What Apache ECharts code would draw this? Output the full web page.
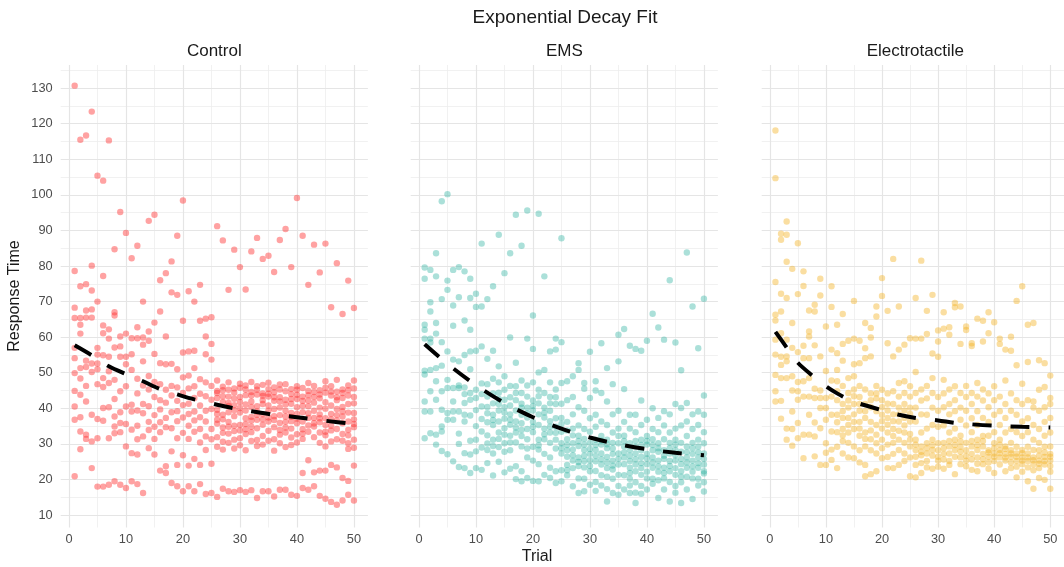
<!DOCTYPE html>
<html><head><meta charset="utf-8">
<script src="https://cdn.jsdelivr.net/npm/echarts@6/dist/echarts.min.js"></script>
<style>html,body{margin:0;padding:0;background:#fff}#c{width:1064px;height:567px}</style>
</head><body><div id="c"></div>
<script>
const panelNames = ['Control', 'EMS', 'Electrotactile'];
const trials = [1,2,3,4,5,6,7,8,9,10,11,12,13,14,15,16,17,18,19,20,21,22,23,24,25,26,27,28,29,30,31,32,33,34,35,36,37,38,39,40,41,42,43,44,45,46,47,48,49,50];
const xTicks = [0, 10, 20, 30, 40, 50];
const xMinorTicks = [5, 15, 25, 35, 45];
const yTicks = [10, 20, 30, 40, 50, 60, 70, 80, 90, 100, 110, 120, 130];
const yMinorTicks = [15, 25, 35, 45, 55, 65, 75, 85, 95, 105, 115, 125, 135];

// Response times per trial (row i = trial i+1)
const controlValues = [
[130.7,78.6,68.3,65.4,57.0,54.1,49.9,44.9,40.5,36.8,20.9],
[115.5,74.3,65.4,63.5,61.0,51.3,48.4,43.8,37.5,33.5,28.5],
[116.7,74.9,67.5,65.5,53.4,51.6,46.3,41.9,32.6,31.4],
[123.4,80.1,73.1,67.8,65.5,52.6,50.2,38.2,30.7,23.2],
[105.4,70.0,57.0,55.1,52.6,51.0,46.8,37.0,31.6,18.0],
[104.0,77.2,63.3,61.1,54.9,48.5,46.0,40.1,36.5,18.0],
[115.3,62.2,59.6,54.5,50.4,47.1,40.3,31.6,18.5],
[84.7,67.0,66.1,57.1,48.0,42.6,37.7,34.9,33.0,19.5],
[95.2,60.2,57.4,54.5,44.8,38.9,35.9,33.3,18.5],
[89.3,61.0,54.5,52.4,46.2,40.5,35.6,29.3,17.6],
[82.2,59.7,55.2,50.8,41.0,39.1,34.0,27.4,19.5],
[85.7,62.8,59.7,48.3,44.2,39.4,35.1,31.3,27.0,18.7],
[70.0,59.9,57.9,53.2,46.4,41.2,38.6,32.1,16.2],
[92.7,61.6,59.0,49.1,45.3,40.6,36.2,33.9,28.8],
[94.4,64.1,55.3,47.4,43.2,38.1,34.8,31.4,27.0],
[76.0,67.2,52.7,46.8,42.3,39.7,36.1,33.3,22.5],
[78.0,60.2,52.4,45.2,41.6,37.3,34.7,23.7,21.8],
[81.3,72.6,52.5,46.3,43.6,38.9,34.4,27.9,19.0],
[88.5,71.9,51.0,45.9,42.1,39.2,36.4,31.6,24.1,18.1],
[98.4,64.6,55.7,48.7,44.3,40.9,37.4,33.1,26.8,16.7],
[72.9,56.0,49.2,45.6,41.3,38.4,35.1,31.4,23.9,18.1],
[70.0,56.2,51.3,46.2,42.9,39.1,36.6,33.4,25.8,16.7],
[74.7,64.6,48.2,44.1,40.8,37.5,34.2,30.4,24.1,18.7],
[65.2,60.2,55.2,47.3,43.4,39.3,36.3,32.1,28.3,15.9],
[65.6,58.1,53.7,46.3,42.4,39.8,34.2,31.3,24.4,16.2],
[91.2,47.8,44.3,42.9,39.6,38.4,35.7,31.9,29.2,15.1,44.9,36.8],
[87.2,46.1,43.4,41.8,38.2,36.9,33.1,30.6,28.4,17.4,45.1,34.6],
[73.3,47.3,45.2,41.5,40.7,36.2,34.8,32.9,30.3,16.7,43.3,38.9],
[84.6,45.6,42.7,40.9,37.8,35.1,33.6,31.2,28.7,16.5,44.4,39.5],
[79.7,46.9,45.8,43.2,40.1,38.8,35.3,31.6,29.6,17.0,41.8,33.8],
[73.4,46.4,43.7,41.1,39.4,37.2,34.1,32.8,28.2,16.5,45.3,35.6],
[84.1,47.4,44.6,43.6,40.4,37.6,36.5,33.3,30.8,17.0,41.9,34.8],
[87.9,45.2,43.9,40.6,39.1,36.8,34.4,31.1,29.4,14.8,46.2,38.2],
[82.0,46.6,44.2,42.3,41.2,38.3,35.4,32.2,29.8,16.7,43.5,36.9],
[82.9,47.2,45.4,43.3,40.8,37.4,36.3,33.7,30.9,16.7,44.1,39.3],
[78.3,45.9,44.5,42.1,39.8,36.7,34.7,31.3,28.1,15.2,43.1,37.8],
[87.3,45.3,43.1,41.9,40.2,38.1,35.9,32.6,30.2,17.1,46.7,33.9],
[90.4,46.8,44.8,42.4,39.3,37.7,34.6,33.2,29.1,17.1,41.1,36.2],
[79.7,45.4,42.6,41.3,38.7,36.4,34.3,31.8,29.7,15.7,44.0,37.6],
[99.1,46.2,43.8,42.6,40.3,37.1,35.8,32.7,30.4,15.4,45.2,38.4],
[88.5,45.7,43.3,40.7,38.9,36.3,34.1,31.4,21.8,17.6,42.1,32.9],
[74.7,47.1,44.9,42.2,40.6,38.6,35.2,33.4,25.4,17.1,43.7,37.3],
[86.0,46.3,43.2,41.6,39.3,37.3,34.9,31.9,22.0,18.1,44.6,35.8],
[78.2,45.1,42.8,40.2,38.3,36.1,33.2,30.3,22.5,15.4,43.9,37.2],
[86.3,47.6,44.4,41.7,39.9,37.2,35.3,32.4,29.3,22.5,14.6,45.8,33.4],
[68.4,46.2,43.6,40.8,38.4,36.9,33.8,30.7,24.1,13.7,44.7,35.1],
[80.8,48.0,44.7,42.3,39.8,36.6,34.2,31.3,23.4,12.9,43.1,38.1],
[66.5,45.3,42.9,40.4,37.7,35.8,32.8,30.9,20.4,14.1,44.3,39.1],
[75.9,46.4,43.6,41.2,38.8,36.3,33.9,30.2,28.6,19.6,15.7,45.1,32.4],
[68.2,47.8,43.2,41.4,38.7,35.6,34.7,31.2,28.9,23.9,14.1,45.6,36.9]
];
const emsValues = [
[79.6,76.4,63.5,62.1,59.6,50.6,49.5,41.9,39.1,31.6],
[78.9,69.8,67.2,59.6,58.5,50.8,44.8,39.1,33.0],
[83.6,77.1,64.0,61.0,51.3,47.6,42.4,32.6,29.8],
[98.2,70.7,58.6,52.0,44.8,39.6,34.9,33.5,28.0],
[100.2,75.9,73.3,56.0,48.0,45.7,38.7,36.8,27.1],
[78.9,68.9,63.2,53.7,45.7,41.9,39.1,36.8,25.1],
[79.7,71.2,53.2,46.4,45.7,39.1,32.9,30.0,23.5],
[78.5,64.7,55.0,45.9,44.0,41.5,38.2,36.3,27.4,23.2],
[76.4,71.0,62.1,56.0,51.0,44.3,42.4,38.0,30.9,27.0,21.8],
[72.2,68.5,56.2,45.2,42.9,39.5,35.0,31.2,27.9,23.2],
[86.3,68.6,57.4,47.0,44.0,40.5,37.0,33.5,29.0,22.7],
[70.7,53.9,46.8,43.3,40.4,36.1,32.4,28.3,24.6,38.6,30.1],
[74.3,56.2,48.3,44.2,41.4,38.2,35.3,31.2,27.3,21.1,36.7,29.4],
[88.8,51.8,47.3,44.4,41.2,39.4,36.3,33.2,29.1,25.0,42.6,31.4],
[78.0,49.0,45.2,42.4,40.3,37.1,34.4,30.2,27.8,22.0,38.8,32.6],
[83.6,59.9,46.3,43.1,40.8,38.3,35.4,32.3,28.2,23.0,36.8,30.4],
[94.4,52.8,46.2,42.3,39.4,36.3,33.2,30.4,23.7,20.1,44.3,34.6],
[85.7,47.8,44.3,41.3,38.2,35.8,32.2,29.3,22.3,19.5,40.2,33.9],
[95.6,59.6,46.4,43.3,40.2,37.4,34.2,31.3,26.2,20.4,38.6,28.7],
[66.1,56.7,47.3,42.2,39.4,36.2,33.3,29.2,25.3,19.6,40.7,34.8],
[94.7,50.1,45.2,41.4,38.3,35.3,31.2,28.4,24.3,19.5,43.4,29.6],
[77.1,50.8,44.3,40.2,37.4,34.3,31.3,27.2,21.3,38.8,32.7],
[56.0,47.3,43.2,39.3,36.4,33.2,30.3,26.2,23.3,20.4,41.4,34.8],
[59.6,56.5,45.3,41.2,37.2,34.8,31.2,28.7,22.3,19.0,43.1,33.1],
[87.8,58.6,47.1,41.3,37.3,33.4,30.2,27.3,22.6,19.5,35.6,28.8],
[47.6,42.3,36.2,33.8,31.3,28.2,26.4,24.1,21.2,29.7,22.6],
[49.0,43.2,38.3,34.3,30.2,28.4,25.3,23.2,18.1,32.4,26.8],
[52.7,50.8,40.3,35.2,32.3,29.4,26.2,23.8,20.3,16.2,30.8,24.9],
[47.1,45.5,39.3,34.2,31.4,28.3,25.2,23.4,20.2,16.7,29.8,26.7],
[55.9,42.9,37.2,33.4,30.3,27.2,25.4,22.3,18.5,28.6,23.8],
[47.6,45.0,38.2,34.8,31.2,28.3,25.1,22.4,19.3,16.8,29.7,26.6],
[58.3,44.3,36.3,32.2,29.8,27.3,24.2,21.2,18.3,30.9,25.7],
[51.3,41.9,35.3,31.2,28.8,26.3,23.2,20.8,17.3,13.8,29.9,24.8],
[46.8,38.3,33.2,30.3,27.2,25.3,22.8,20.2,16.2,28.7,23.9],
[60.7,53.2,39.3,34.3,30.2,27.3,24.2,21.3,18.2,15.7,32.2,25.8],
[62.3,45.4,36.2,32.3,29.3,26.2,24.3,21.2,17.2,30.8,27.6],
[57.6,38.2,34.3,30.2,28.3,25.2,23.3,20.2,18.3,16.2,26.7,21.8],
[56.7,38.2,33.3,29.2,27.3,24.2,22.3,19.2,16.3,13.4,30.8,25.7],
[56.2,42.2,35.3,31.2,28.2,26.3,23.2,21.3,18.2,16.0,29.7,24.6],
[59.0,36.8,32.2,29.8,27.2,24.3,22.2,20.3,17.2,30.8,25.9],
[66.6,40.0,34.2,31.3,28.2,26.2,23.3,20.2,18.8,29.7,24.8],
[62.7,37.3,33.3,30.2,27.8,25.3,22.2,19.8,14.8,28.8,23.7],
[59.3,39.2,35.2,31.3,28.2,25.8,23.3,20.3,17.2,26.7,21.8],
[76.0,38.3,33.2,30.3,27.3,25.2,22.3,19.3,13.8,28.8,23.8],
[58.5,41.2,34.3,31.2,28.3,25.3,23.2,21.3,18.2,16.3,29.8,26.8],
[50.7,40.1,35.2,30.3,27.8,24.3,22.3,19.2,13.4,25.8,20.8],
[83.8,41.5,36.3,32.2,29.3,26.2,23.3,20.8,17.2,27.7,24.8],
[68.6,38.3,34.2,30.3,27.2,25.3,22.2,20.3,14.5,28.8,23.7],
[56.9,39.1,35.3,31.2,29.3,26.2,23.3,20.2,18.3,27.7,24.6],
[70.8,43.6,38.2,33.3,30.2,27.3,24.2,22.3,19.2,16.6,25.8,21.7]
];
const electroValues = [
[118.1,104.7,75.5,66.3,64.7,59.3,55.1,49.4,44.8,41.9],
[89.1,87.4,72.2,67.2,61.1,54.5,52.2,48.5,42.1,37.1],
[92.5,88.8,81.2,71.0,59.3,54.6,53.2,48.5,34.3,31.2],
[79.2,64.0,57.0,49.0,45.0,39.1,34.2,29.5],
[86.4,72.1,55.8,47.4,44.8,42.4,35.9,31.6],
[78.5,74.4,57.6,54.1,47.6,43.3,32.6,26.0],
[67.5,61.6,60.2,54.1,48.5,43.3,38.2,32.6],
[69.1,67.2,57.7,45.5,42.9,36.0,32.1,26.5],
[76.4,71.7,54.6,45.0,42.9,40.1,34.4,24.1],
[63.0,50.5,42.9,40.1,36.8,30.2,27.5,24.1],
[74.3,68.5,56.5,47.8,43.3,38.2,33.5,28.4,25.5],
[63.5,55.5,50.8,47.6,42.3,38.2,33.3,29.2,23.2,36.1,44.8],
[66.5,58.1,53.4,46.3,41.2,37.3,34.2,30.8,27.3,39.2,32.4],
[59.0,48.5,44.3,40.2,37.3,33.2,30.3,26.2,42.2,35.3],
[70.2,59.6,52.4,49.0,45.3,41.2,38.3,34.2,29.3,26.0,36.2,43.4],
[59.0,52.7,46.3,43.2,39.3,36.2,32.3,28.2,24.8,41.2,34.3],
[64.0,56.9,54.1,45.3,41.2,37.3,33.2,29.3,24.1,20.9,39.2,31.4],
[62.6,59.9,54.6,44.2,40.3,36.2,31.3,28.2,21.5,42.3,33.8],
[68.6,65.8,46.3,42.8,39.2,35.3,30.2,27.3,22.3,44.2,32.6],
[76.6,71.6,45.2,42.3,38.2,34.3,31.2,28.8,26.0,40.3,36.4],
[67.4,58.3,44.2,41.3,37.3,33.2,29.8,26.3,23.2,39.4,35.4],
[82.0,54.6,44.8,41.2,38.3,34.2,30.3,27.2,23.2,36.4,32.2],
[68.6,56.5,47.1,43.3,40.2,36.3,31.2,28.3,24.1,38.3,33.7],
[57.9,47.6,44.3,41.2,37.3,33.2,30.3,27.3,25.2,39.4,35.2],
[59.7,46.2,43.3,40.2,36.3,32.8,29.3,26.2,20.9,38.4,31.2],
[71.0,59.6,50.2,44.3,40.2,36.3,31.2,28.3,24.1,20.6,26.4,29.8],
[81.5,59.6,45.3,42.2,38.3,33.2,29.3,26.8,21.8,27.8,24.6],
[67.4,60.9,46.3,42.8,38.2,34.3,30.2,27.3,25.2,28.8,23.4],
[71.9,55.4,48.5,44.3,40.2,35.3,31.2,28.3,23.0,26.7,29.6],
[61.9,58.8,54.5,43.2,39.3,34.8,30.2,28.2,25.3,26.4,23.6],
[67.0,62.4,48.0,44.2,40.3,35.2,30.3,27.2,23.0,28.8,25.6],
[62.8,60.7,45.3,41.2,38.3,33.2,29.3,27.3,25.2,24.1,30.8],
[69.6,68.4,46.2,42.3,39.2,34.3,31.2,28.3,21.5,26.4,29.7],
[68.6,58.1,44.3,40.2,36.8,32.3,29.2,26.2,24.3,27.8,30.7],
[63.0,62.0,46.3,43.2,39.3,35.2,30.3,28.2,25.3,26.6,23.7],
[58.3,57.5,44.3,41.2,37.2,33.3,29.3,27.2,22.7,25.6,30.8],
[65.2,47.1,43.3,39.2,35.3,31.2,28.3,26.2,22.3,24.4,29.7],
[64.6,58.8,45.3,42.2,37.3,32.2,29.3,27.2,24.3,25.7,30.8],
[67.0,61.1,44.2,40.3,36.2,32.3,28.2,26.3,23.0,27.6,24.8],
[64.2,46.2,42.3,38.2,33.3,30.2,27.3,25.2,21.8,26.4,28.8],
[59.6,58.1,43.3,39.2,35.3,31.2,28.3,26.2,24.2,27.4,29.8],
[56.5,47.8,41.2,37.3,33.2,29.3,27.2,25.3,22.3,26.2,28.6],
[60.1,56.2,44.2,39.3,34.2,30.3,28.2,26.3,24.8,27.3,23.2],
[70.2,52.1,42.3,38.2,33.3,29.2,27.3,25.2,20.6,26.4,23.6],
[74.3,46.9,41.2,36.3,32.2,28.3,26.2,24.3,22.2,27.4,25.3],
[63.5,53.0,42.3,37.2,33.3,29.2,27.3,25.2,19.5,26.2,23.4],
[64.0,41.9,40.2,35.3,31.2,28.3,26.2,24.3,17.4,25.4,22.6],
[53.5,45.2,39.3,34.2,30.3,28.2,25.3,23.2,20.4,26.7,24.4],
[52.7,46.0,40.3,36.2,32.3,29.2,26.3,24.2,19.9,27.6,25.2],
[49.2,42.9,41.2,37.3,33.2,29.3,27.2,25.3,22.2,17.4,26.4,23.8]
];

// Fitted exponential-decay curves
const controlFitTrials = [1,4,7,10,13,16,19,22,26,29,32,36,40,45,50];
const controlFitValues = [57.7,54.9,51.8,49.6,47.6,45.4,43.9,42.5,41.0,40.0,39.2,38.2,37.5,36.5,35.6];
const emsFitTrials = [1,5,10,15,20,25,30,35,40,45,50];
const emsFitValues = [58.0,52.5,46.5,41.5,37.5,34.3,31.8,29.9,28.5,27.5,26.8];
const electroFitTrials = [1,3,5,7.5,10,12,14,16,19.5,23,26,30,33,36,40,45,50];
const electroFitValues = [61.5,57.1,52.8,49.3,46.2,44.2,42.5,41.3,39.7,38.2,37.3,36.6,35.9,35.5,35.1,34.8,34.6];

const pointColors = ['#ff3030', '#22ad9c', '#f3b120'];
const pointOpacity = [0.45, 0.38, 0.42];

function toPoints(values) {
  const out = [];
  values.forEach((col, i) => col.forEach(v => out.push([trials[i], v])));
  return out;
}
function zip(a, b) { return a.map((t, i) => [t, b[i]]); }

const allValues = [controlValues, emsValues, electroValues];
const allFits = [zip(controlFitTrials, controlFitValues), zip(emsFitTrials, emsFitValues), zip(electroFitTrials, electroFitValues)];

const FONT = 'Liberation Sans, Arial, Helvetica, sans-serif';
const gridLefts = [60.7, 410.7, 761.7];
const gridTop = 65, gridH = 462.5, gridW = 307.2;

const grid = [], xAxis = [], yAxis = [], series = [], graphic = [];

gridLefts.forEach((left, k) => {
  grid.push({left: left, top: gridTop, width: gridW, height: gridH, containLabel: false});
  xAxis.push({
    type: 'value', gridIndex: k, min: -1.45, max: 52.45,
    axisLine: {show: false}, axisTick: {show: false}, splitLine: {show: false},
    axisLabel: {customValues: xTicks, color: '#4d4d4d', fontSize: 12.8, fontFamily: FONT, margin: 5}
  });
  yAxis.push({
    type: 'value', gridIndex: k, min: 6.5, max: 136.5,
    axisLine: {show: false}, axisTick: {show: false}, splitLine: {show: false},
    axisLabel: {show: k === 0, customValues: yTicks, color: '#4d4d4d', fontSize: 12.8, fontFamily: FONT, margin: 8}
  });
  const gl = (arr, key, w, c) => arr.map(v => ({[key]: v, lineStyle: {width: w, color: c}}));
  series.push({
    type: 'scatter', xAxisIndex: k, yAxisIndex: k, data: [], silent: true, z: 0,
    markLine: {
      silent: true, z: 0, symbol: ['none', 'none'], label: {show: false}, animation: false,
      emphasis: {disabled: true},
      lineStyle: {type: 'solid', color: '#ebebeb', width: 1},
      data: [].concat(
        gl(xMinorTicks, 'xAxis', 0.8, '#ededed'),
        gl(yMinorTicks, 'yAxis', 0.8, '#ededed'),
        gl(xTicks, 'xAxis', 1.2, '#e5e5e5'),
        gl(yTicks, 'yAxis', 1.2, '#e5e5e5'))
    }
  });
  series.push({
    type: 'scatter', xAxisIndex: k, yAxisIndex: k, z: 2, symbol: 'circle', symbolSize: 6.4,
    itemStyle: {color: pointColors[k], opacity: pointOpacity[k]},
    data: toPoints(allValues[k]), silent: true
  });
  series.push({
    type: 'line', xAxisIndex: k, yAxisIndex: k, z: 3, showSymbol: false, smooth: 0.3,
    lineStyle: {color: '#000', width: 4, type: [19, 19], cap: 'butt'},
    data: allFits[k], silent: true
  });
  graphic.push({type: 'text', x: left + gridW / 2, y: 51, silent: true,
    style: {text: panelNames[k], fill: '#1a1a1a', font: '17px ' + FONT, textAlign: 'center', textVerticalAlign: 'middle'}});
});

graphic.push({type: 'text', x: 565, y: 18, silent: true,
  style: {text: 'Exponential Decay Fit', fill: '#1a1a1a', font: '19px ' + FONT, textAlign: 'center', textVerticalAlign: 'middle'}});
graphic.push({type: 'text', x: 537, y: 557, silent: true,
  style: {text: 'Trial', fill: '#1a1a1a', font: '16px ' + FONT, textAlign: 'center', textVerticalAlign: 'middle'}});
graphic.push({type: 'text', x: 15, y: 296, rotation: Math.PI / 2, silent: true,
  style: {text: 'Response Time', fill: '#1a1a1a', font: '16px ' + FONT, textAlign: 'center', textVerticalAlign: 'middle'}});

const chart = echarts.init(document.getElementById('c'), null, {renderer: 'canvas'});
chart.setOption({animation: false, backgroundColor: '#ffffff', grid, xAxis, yAxis, series, graphic});
</script>
</body></html>
